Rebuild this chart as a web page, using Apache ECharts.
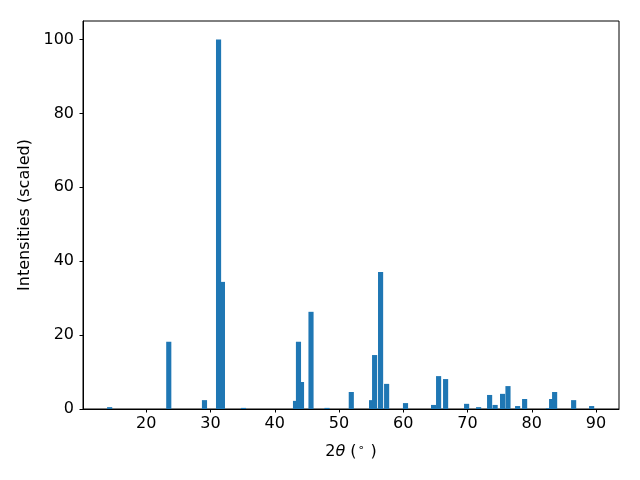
<!DOCTYPE html>
<html>
<head>
<meta charset="utf-8">
<script src="https://cdn.jsdelivr.net/npm/echarts@6/dist/echarts.min.js"></script>
<style>html,body{margin:0;padding:0;background:#fff}#c{width:640px;height:480px}</style>
</head>
<body>
<div id="c"></div>
<script>
// Peak positions (2θ, degrees) and scaled intensities; order chosen so overlapping bars stack as in the reference
const angles = [14.3, 23.5, 29.06, 31.85, 31.25, 35.13, 43.23, 44.16, 43.69, 45.64, 48.13, 51.91,
  55.07, 55.54, 56.47, 57.41, 60.35, 64.72, 65.5, 66.59, 69.86, 71.73, 73.44, 74.3,
  75.46, 76.3, 77.8, 78.89, 82.6, 83.09, 83.56, 86.52, 89.32];
const intensities = [0.5, 18.2, 2.4, 34.4, 100, 0.3, 2.2, 7.3, 18.2, 26.3, 0.3, 4.6,
  2.4, 14.6, 37.1, 6.8, 1.6, 1.1, 8.9, 8.1, 1.4, 0.5, 3.8, 1.1,
  4.1, 6.2, 0.8, 2.7, 0.2, 2.7, 4.6, 2.4, 0.8];
const xTicks = [20, 30, 40, 50, 60, 70, 80, 90];
const yTicks = [0, 20, 40, 60, 80, 100];

const FONT = 'DejaVu Sans';
const chart = echarts.init(document.getElementById('c'), null, {renderer: 'canvas'});
chart.setOption({
  animation: false,
  backgroundColor: '#fff',
  grid: {left: 83, right: 21, top: 21, bottom: 71, show: true, borderColor: '#000', borderWidth: 1},
  xAxis: {
    type: 'value', min: 10.15, max: 93.58,
    name: '{a|2}{i|θ}{a| (}{s|∘}{a| )}',
    nameLocation: 'middle', nameGap: 34,
    nameTextStyle: {
      rich: {
        a: {fontFamily: FONT, fontSize: 16, color: '#000'},
        i: {fontFamily: FONT, fontSize: 16, fontStyle: 'italic', color: '#000'},
        s: {fontFamily: FONT, fontSize: 11, color: '#000', verticalAlign: 'top', padding: [0, 1, 6, 1]}
      }
    },
    axisLine: {show: true, onZero: false, lineStyle: {color: '#000', width: 1}},
    axisTick: {show: true, length: 3.5, inside: false, customValues: xTicks, lineStyle: {color: '#000'}},
    axisLabel: {customValues: xTicks, fontFamily: FONT, fontSize: 16, color: '#000', margin: 7},
    splitLine: {show: false}
  },
  yAxis: {
    type: 'value', min: 0, max: 105,
    name: 'Intensities (scaled)', nameLocation: 'middle', nameGap: 48,
    nameTextStyle: {fontFamily: FONT, fontSize: 16, color: '#000'},
    axisLine: {show: true, lineStyle: {color: '#000', width: 1}},
    axisTick: {show: true, length: 3.5, customValues: yTicks, lineStyle: {color: '#000'}},
    axisLabel: {customValues: yTicks, fontFamily: FONT, fontSize: 16, color: '#000', margin: 9},
    splitLine: {show: false}
  },
  series: [{
    type: 'bar',
    barWidth: 5.14,
    itemStyle: {color: '#1f77b4'},
    data: angles.map((a, i) => [a, intensities[i]])
  }]
});
</script>
</body>
</html>
